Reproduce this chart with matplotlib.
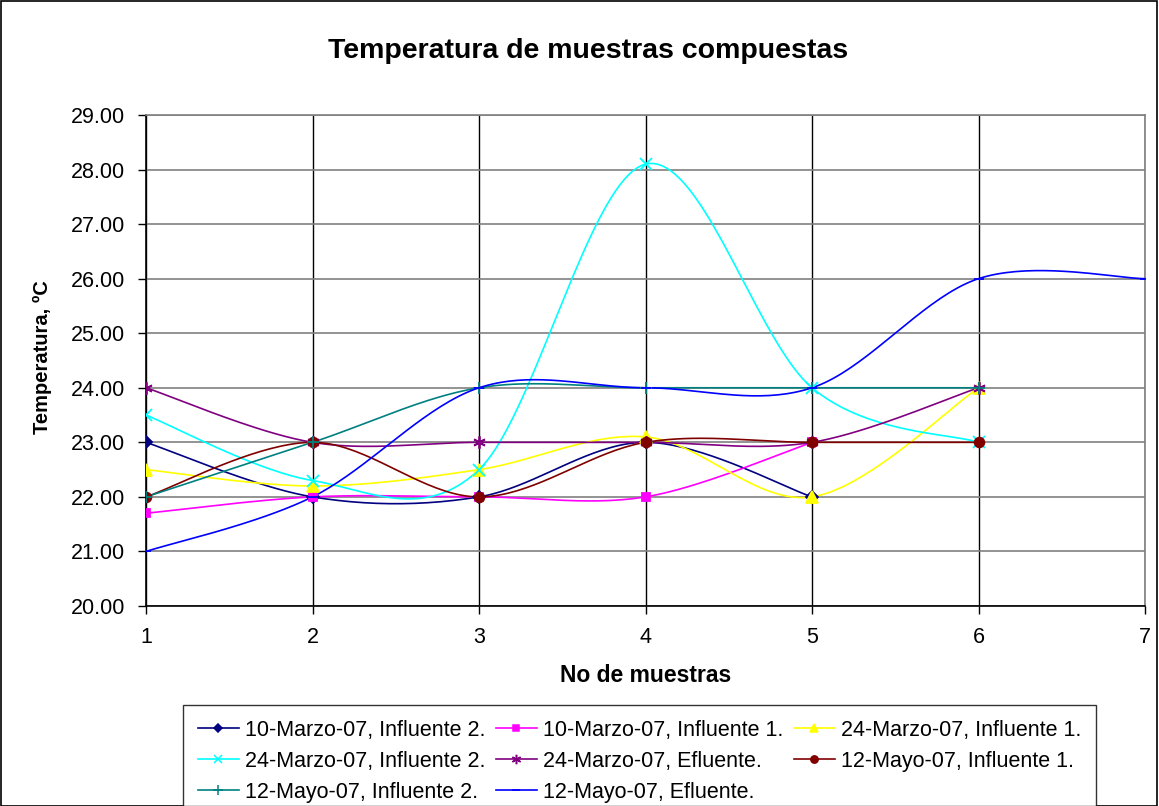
import numpy as np
import matplotlib
matplotlib.use("Agg")
import matplotlib.pyplot as plt
from matplotlib.patches import Rectangle

plt.rcParams["font.family"] = ["Liberation Sans", "DejaVu Sans"]

# Sample number on the x axis, temperature (degC) per series
muestras = [1, 2, 3, 4, 5, 6, 7]

marzo10_inf2 = [23.0, 22.0, 22.0, 23.0, 22.0]
marzo10_inf1 = [21.7, 22.0, 22.0, 22.0, 23.0]
marzo24_inf1 = [22.5, 22.2, 22.5, 23.1, 22.0, 24.0]
marzo24_inf2 = [23.5, 22.3, 22.5, 28.1, 24.0, 23.0]
marzo24_efl = [24.0, 23.0, 23.0, 23.0, 23.0, 24.0]
mayo12_inf1 = [22.0, 23.0, 22.0, 23.0, 23.0, 23.0]
mayo12_inf2 = [22.0, 23.0, 24.0, 24.0, 24.0, 24.0]
mayo12_efl = [21.0, 22.0, 24.0, 24.0, 24.0, 26.0, 26.0]

series = [
    ("10-Marzo-07, Influente 2.", marzo10_inf2, "#000080", "D", 6),
    ("10-Marzo-07, Influente 1.", marzo10_inf1, "#FF00FF", "s", 6),
    ("24-Marzo-07, Influente 1.", marzo24_inf1, "#FFFF00", "^", 8),
    ("24-Marzo-07, Influente 2.", marzo24_inf2, "#00FFFF", "x", 8),
    ("24-Marzo-07, Efluente.", marzo24_efl, "#800080", (6, 2, 0), 9),
    ("12-Mayo-07, Influente 1.", mayo12_inf1, "#800000", "o", 7),
    ("12-Mayo-07, Influente 2.", mayo12_inf2, "#008080", "+", 9),
    ("12-Mayo-07, Efluente.", mayo12_efl, "#0000FF", "_", 7),
]


def smooth_curve(xs, ys, n=40):
    """Cubic Bezier smoothing through every point (Catmull-Rom style)."""
    pts = np.column_stack([xs, ys]).astype(float)
    padded = np.vstack([pts[0], pts, pts[-1]])
    t = np.linspace(0, 1, n)[:, None]
    out = []
    for i in range(len(pts) - 1):
        p0, p3 = padded[i + 1], padded[i + 2]
        c1 = p0 + (padded[i + 2] - padded[i]) / 6.0
        c2 = p3 - (padded[i + 3] - padded[i + 1]) / 6.0
        seg = ((1 - t) ** 3) * p0 + 3 * ((1 - t) ** 2) * t * c1 \
            + 3 * (1 - t) * t ** 2 * c2 + t ** 3 * p3
        out.append(seg if i == 0 else seg[1:])
    curve = np.vstack(out)
    return curve[:, 0], curve[:, 1]


fig = plt.figure(figsize=(11.59, 8.06), dpi=100)
ax = fig.add_axes([146 / 1159, 1 - 606 / 806, (1145 - 146) / 1159, (606 - 115) / 806])

handles = []
for label, values, color, marker, size in series:
    xs = muestras[:len(values)]
    sx, sy = smooth_curve(xs, values)
    ax.plot(sx, sy, color=color, lw=1.2, zorder=3)
    ax.plot(xs, values, linestyle="none", marker=marker, color=color,
            markersize=size, markeredgewidth=1.3, zorder=4)
    h, = ax.plot([], [], color=color, lw=1.2, marker=marker,
                 markersize=size * 0.75, markeredgewidth=1.1, label=label)
    handles.append(h)

ax.set_xlim(1, 7)
ax.set_ylim(20, 29)
ax.set_xticks(muestras)
ax.set_yticks(np.arange(20, 29.5, 1))
ax.yaxis.set_major_formatter(matplotlib.ticker.FormatStrFormatter("%.2f"))
ax.tick_params(axis="both", labelsize=15.5, direction="out", length=6, width=1)
ax.tick_params(axis="x", pad=9)
ax.tick_params(axis="y", pad=9)

ax.yaxis.grid(True, color="#808080", lw=1.2)
ax.xaxis.grid(True, color="#000000", lw=1.0)
ax.set_axisbelow(True)
ax.spines["left"].set_color("black")
ax.spines["bottom"].set_color("black")
ax.spines["top"].set_color("#808080")
ax.spines["right"].set_color("#808080")
for sp in ax.spines.values():
    sp.set_linewidth(1.2)

ax.set_xlabel("No de muestras", fontsize=16.5, fontweight="bold", labelpad=12)
fig.text(42 / 1159, 1 - 357 / 806, "Temperatura, ºC", fontsize=14.5,
         fontweight="bold", rotation=90, ha="center", va="center")
fig.text(588 / 1159, 1 - 57.5 / 806, "Temperatura de muestras compuestas",
         fontsize=20.5, fontweight="bold", ha="center", va="baseline")

# legend filled row by row (matplotlib fills columns first)
order = [0, 3, 6, 1, 4, 7, 2, 5]
leg = fig.legend([handles[i] for i in order], [handles[i].get_label() for i in order],
                 loc="upper left", bbox_to_anchor=(183 / 1159, 1 - 705 / 806),
                 ncol=3, fontsize=15.5, frameon=True, fancybox=False,
                 handlelength=1.9, handletextpad=0.28, columnspacing=0.5,
                 labelspacing=0.47, borderpad=0.68, borderaxespad=0)
leg.get_frame().set_edgecolor("black")
leg.get_frame().set_linewidth(1.0)

fig.patches.append(Rectangle((0.0005, 0.0005), 0.998, 0.998, transform=fig.transFigure,
                             fill=False, edgecolor="black", lw=1.2))

fig.savefig("out.png", dpi=100)
